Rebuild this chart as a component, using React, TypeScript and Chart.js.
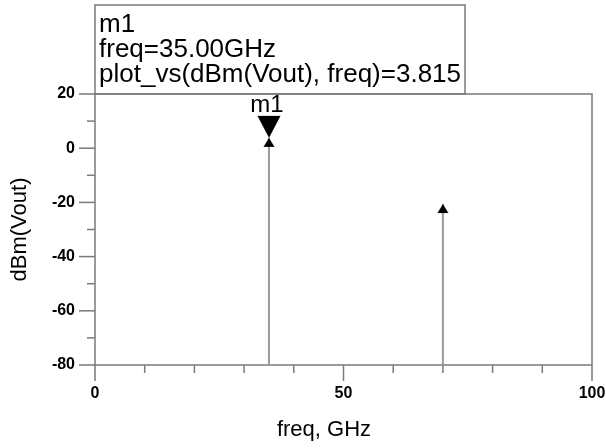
import React, { useEffect, useRef } from "react";
import { Chart, registerables } from "chart.js";

Chart.register(...registerables);

// ---- data ----
const freqGHz = [35, 70];
const dBmVout = [3.815, -20.6];
const xTickValues = [0, 50, 100];
const yTickValues = [20, 0, -20, -40, -60, -80];
const markerFreq = [35];
const markerValue = [3.815];
const markerName = "m1";
const markerLines = ["m1", "freq=35.00GHz", "plot_vs(dBm(Vout), freq)=3.815"];
const xTitle = "freq, GHz";
const yTitle = "dBm(Vout)";

const FONT = "'Liberation Sans', Arial, sans-serif";
const X_MIN = xTickValues[0];
const X_MAX = xTickValues[xTickValues.length - 1];
const Y_MAX = yTickValues[0];
const Y_MIN = yTickValues[yTickValues.length - 1];

function makeUpTriangle(): HTMLCanvasElement {
  const c = document.createElement("canvas");
  c.width = 12;
  c.height = 20;
  const g = c.getContext("2d")!;
  g.fillStyle = "#000";
  g.beginPath();
  g.moveTo(6, 10);
  g.lineTo(11.5, 19);
  g.lineTo(0.5, 19);
  g.closePath();
  g.fill();
  return c;
}

function makeDownTriangle(): HTMLCanvasElement {
  const c = document.createElement("canvas");
  c.width = 24;
  c.height = 46;
  const g = c.getContext("2d")!;
  g.fillStyle = "#000";
  g.beginPath();
  g.moveTo(0.5, 1);
  g.lineTo(23.5, 1);
  g.lineTo(12, 23);
  g.closePath();
  g.fill();
  return c;
}

export default function App() {
  const ref = useRef<HTMLCanvasElement | null>(null);

  useEffect(() => {
    document.body.style.margin = "0";
    const canvas = ref.current!;
    const up = makeUpTriangle();
    const down = makeDownTriangle();

    const stemData: any[] = [];
    freqGHz.forEach((f, i) => {
      if (i > 0) stemData.push({ x: f, y: null });
      stemData.push({ x: f, y: Y_MIN });
      stemData.push({ x: f, y: dBmVout[i] });
    });

    const decor = {
      id: "decor",
      beforeDatasetsDraw(chart: any) {
        const { ctx, chartArea: a, scales } = chart;
        const xs = scales.x;
        const ys = scales.y;
        ctx.save();
        ctx.strokeStyle = "#7a7a7a";
        ctx.lineWidth = 1.5;
        ctx.strokeRect(a.left, a.top, a.right - a.left, a.bottom - a.top);
        // y ticks
        for (let v = Y_MIN; v <= Y_MAX; v += 10) {
          const py = ys.getPixelForValue(v);
          const len = yTickValues.includes(v) ? 16 : 8;
          ctx.beginPath();
          ctx.moveTo(a.left - len, py);
          ctx.lineTo(a.left, py);
          ctx.stroke();
        }
        // x ticks
        for (let v = X_MIN; v <= X_MAX; v += 10) {
          const px = xs.getPixelForValue(v);
          const len = xTickValues.includes(v) ? 16 : 8;
          ctx.beginPath();
          ctx.moveTo(px, a.bottom);
          ctx.lineTo(px, a.bottom + len);
          ctx.stroke();
        }
        ctx.restore();
      },
      afterDraw(chart: any) {
        const { ctx, chartArea: a, scales } = chart;
        const xs = scales.x;
        const ys = scales.y;
        ctx.save();
        // annotation box
        ctx.font = `26px ${FONT}`;
        ctx.fillStyle = "#000";
        ctx.textBaseline = "alphabetic";
        ctx.textAlign = "left";
        let maxW = 0;
        markerLines.forEach((t) => (maxW = Math.max(maxW, ctx.measureText(t).width)));
        const bx = a.left;
        const by = 5;
        const bw = 4 + maxW + 4;
        ctx.strokeStyle = "#7a7a7a";
        ctx.lineWidth = 1.5;
        ctx.strokeRect(bx, by, bw, a.top - by);
        markerLines.forEach((t, i) => ctx.fillText(t, bx + 4, 32 + i * 25));
        // marker label
        const mx = xs.getPixelForValue(markerFreq[0]);
        const my = ys.getPixelForValue(markerValue[0]);
        ctx.font = `24px ${FONT}`;
        ctx.textAlign = "center";
        ctx.fillText(markerName, mx - 2, my - 26);
        // axis titles
        ctx.font = `22px ${FONT}`;
        ctx.textAlign = "center";
        ctx.textBaseline = "middle";
        ctx.fillText(xTitle, 324, 430);
        ctx.translate(20, (a.top + a.bottom) / 2);
        ctx.rotate(-Math.PI / 2);
        ctx.fillText(yTitle, 0, 0);
        ctx.restore();
      },
    };

    const chart = new Chart(canvas, {
      type: "scatter",
      data: {
        datasets: [
          {
            label: "stems",
            data: stemData,
            showLine: true,
            spanGaps: false,
            borderColor: "#9a9a9a",
            borderWidth: 2,
            pointStyle: up as any,
            pointRadius: (c: any) => (c.raw && c.raw.y === Y_MIN ? 0 : 6),
            pointHoverRadius: 0,
          },
          {
            label: "marker",
            data: markerFreq.map((f, i) => ({ x: f, y: markerValue[i] })),
            showLine: false,
            pointStyle: down as any,
            pointRadius: 10,
          },
        ],
      },
      options: {
        responsive: false,
        animation: false,
        events: [],
        layout: { padding: { top: 94, right: 14, left: 0, bottom: 0 } },
        plugins: { legend: { display: false }, tooltip: { enabled: false } },
        scales: {
          x: {
            type: "linear",
            min: X_MIN,
            max: X_MAX,
            afterBuildTicks: (s: any) => {
              s.ticks = xTickValues.map((v) => ({ value: v }));
            },
            afterFit: (s: any) => {
              s.height = 83;
              s.paddingLeft = 0;
              s.paddingRight = 0;
            },
            grid: { display: false, drawTicks: false, tickLength: 0 },
            border: { display: false },
            ticks: {
              padding: 19,
              color: "#000",
              font: { family: FONT, size: 16, weight: "bold" },
              maxRotation: 0,
            },
          },
          y: {
            type: "linear",
            min: Y_MIN,
            max: Y_MAX,
            afterBuildTicks: (s: any) => {
              s.ticks = yTickValues.map((v) => ({ value: v }));
            },
            afterFit: (s: any) => {
              s.width = 95;
            },
            grid: { display: false, drawTicks: false, tickLength: 0 },
            border: { display: false },
            ticks: {
              padding: 20,
              color: "#000",
              font: { family: FONT, size: 16, weight: "bold" },
            },
          },
        },
      },
      plugins: [decor],
    });
    return () => chart.destroy();
  }, []);

  return <canvas ref={ref} width={606} height={448} style={{ display: "block" }} />;
}
